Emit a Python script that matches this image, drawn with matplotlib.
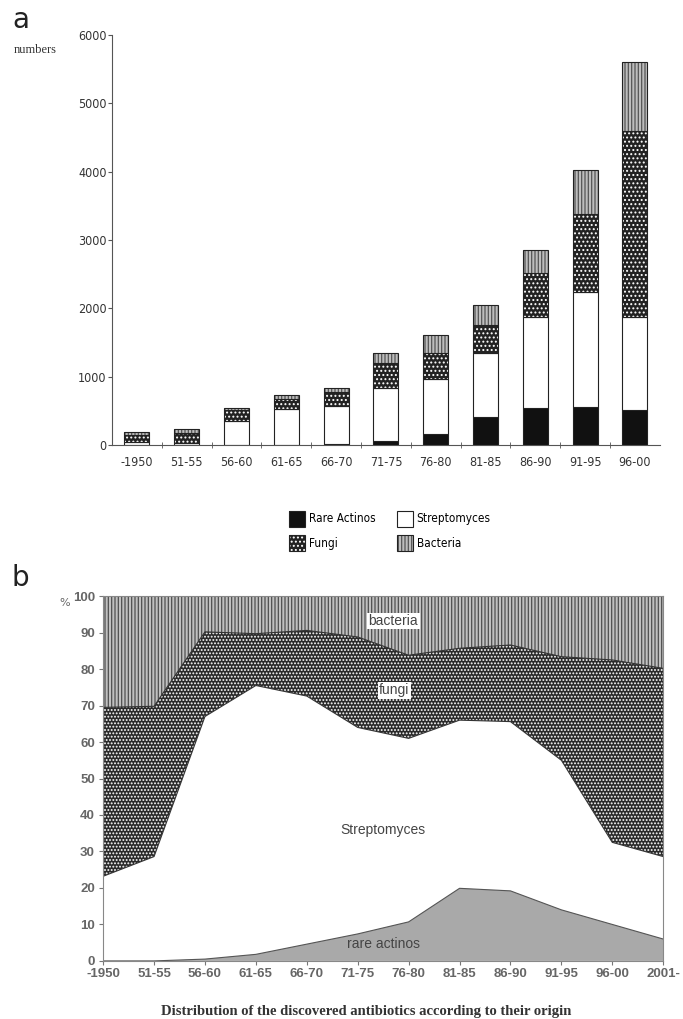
import matplotlib
matplotlib.use('Agg')
import matplotlib.pyplot as plt
from matplotlib.patches import Patch
import numpy as np

# panel a: numbers of discovered antibiotics per period
periods_a = ['-1950', '51-55', '56-60', '61-65', '66-70', '71-75',
             '76-80', '81-85', '86-90', '91-95', '96-00']
rare_a = [0, 0, 0, 0, 15, 60, 160, 415, 540, 560, 510]
strepto_a = [50, 35, 355, 535, 560, 780, 815, 940, 1340, 1675, 1370]
fungi_a = [100, 145, 155, 145, 200, 365, 380, 400, 635, 1140, 2705]
bacteria_a = [45, 55, 35, 50, 55, 145, 255, 295, 340, 650, 1015]

# panel b: cumulative percentages (top edge of each layer)
periods_b = ['-1950', '51-55', '56-60', '61-65', '66-70', '71-75',
             '76-80', '81-85', '86-90', '91-95', '96-00', '2001-']
rare_top = [0, 0, 0.5, 1.8, 4.6, 7.4, 10.7, 19.9, 19.2, 14, 10, 6]
strepto_top = [23.2, 28.6, 67, 75.5, 72.6, 64, 61, 66, 65.6, 55, 32.5, 28.6]
fungi_top = [69.5, 69.8, 90.2, 89.7, 90.6, 88.8, 83.8, 85.7, 86.6, 83.4, 82.5, 80.2]

plt.rcParams['hatch.linewidth'] = 0.9
cond = dict(family='DejaVu Sans', stretch='condensed')

fig = plt.figure(figsize=(6.83, 10.19), dpi=100)

# ---------- panel a ----------
ax1 = fig.add_axes([0.164, 0.563, 0.802, 0.403])
x = np.arange(len(periods_a))
w = 0.5
layers = [
    (rare_a, '#111111', '#111111', None),
    (strepto_a, 'white', 'white', None),
    (fungi_a, '#222222', 'white', '....'),
    (bacteria_a, '#bdbdbd', '#555555', '|||||'),
]
bottom = np.zeros(len(x))
handles = []
for vals, face, hcol, hatch in layers:
    vals = np.array(vals, dtype=float)
    ax1.bar(x, vals, w, bottom=bottom, color=face, edgecolor=hcol,
            hatch=hatch, linewidth=0)
    ax1.bar(x, vals, w, bottom=bottom, fill=False, edgecolor='#222222',
            linewidth=0.8)
    bottom += vals
    handles.append((Patch(facecolor=face, edgecolor=hcol, hatch=hatch, linewidth=0),
                    Patch(fill=False, edgecolor='#222222', linewidth=0.8)))

ax1.set_xlim(-0.5, 10.5)
ax1.set_ylim(0, 6000)
ax1.set_yticks(range(0, 6001, 1000))
ax1.set_xticks(x)
ax1.set_xticklabels(periods_a, fontsize=9, color='#333333', **cond)
ax1.set_xticks(x[:-1] + 0.5, minor=True)
ax1.tick_params(axis='x', which='major', length=0, pad=8)
ax1.tick_params(axis='x', which='minor', length=4, direction='inout', color='#555555')
ax1.tick_params(axis='y', length=3, color='#555555', labelsize=9, labelcolor='#333333',
                pad=1)
for lab in ax1.get_yticklabels():
    lab.set_family('DejaVu Sans')
    lab.set_stretch('condensed')
for s in ['top', 'right']:
    ax1.spines[s].set_visible(False)
for s in ['left', 'bottom']:
    ax1.spines[s].set_color('#555555')
    ax1.spines[s].set_linewidth(0.8)

fig.text(12 / 683, 1 - 20 / 1019, 'a', fontsize=20, va='center', color='#222222')
fig.text(14 / 683, 1 - 50 / 1019, 'numbers', fontsize=9, va='center',
         family='Liberation Serif', color='#333333')

labels = ['Rare Actinos', 'Streptomyces', 'Fungi', 'Bacteria']
order = [0, 2, 1, 3]
fig.legend([handles[i] for i in order], [labels[i] for i in [0, 2, 1, 3]],
           ncol=2, loc='upper left', bbox_to_anchor=(278 / 683, 1 - 500 / 1019),
           frameon=False, prop=dict(size=8.5, **cond),
           handlelength=1.4, handleheight=1.7, handletextpad=0.3,
           columnspacing=1.8, labelspacing=0.75)

# ---------- panel b ----------
ax2 = fig.add_axes([0.151, 0.057, 0.820, 0.358])
xb = np.arange(len(periods_b))
ax2.fill_between(xb, fungi_top, 100, facecolor='#c0c0c0', edgecolor='#505050',
                 hatch='|||||', linewidth=0)
ax2.fill_between(xb, strepto_top, fungi_top, facecolor='#2a2a2a', edgecolor='white',
                 hatch='.....', linewidth=0)
ax2.fill_between(xb, rare_top, strepto_top, facecolor='white', linewidth=0)
ax2.fill_between(xb, 0, rare_top, facecolor='#a9a9a9', linewidth=0)
ax2.plot(xb, fungi_top, color='#333333', lw=0.8)
ax2.plot(xb, strepto_top, color='#333333', lw=0.8)
ax2.plot(xb, rare_top, color='#555555', lw=0.8)

ax2.set_xlim(0, 11)
ax2.set_ylim(0, 100)
ax2.set_xticks(xb)
ax2.set_xticklabels(periods_b)
ax2.set_yticks(range(0, 101, 10))
ax2.tick_params(axis='x', length=3, color='#777777', labelsize=9.5,
                labelcolor='#666666', pad=2)
ax2.tick_params(axis='y', length=3, color='#777777', labelsize=9.5,
                labelcolor='#666666', pad=3)
for lab in ax2.get_xticklabels() + ax2.get_yticklabels():
    lab.set_family('Liberation Sans')
    lab.set_fontweight('bold')
for s in ax2.spines.values():
    s.set_color('#888888')
    s.set_linewidth(0.8)

box = dict(facecolor='white', edgecolor='none', pad=1)
ax2.text(5.7, 93.2, 'bacteria', ha='center', va='center', fontsize=10,
         family='Liberation Sans', color='#444444', bbox=box)
ax2.text(5.72, 74.2, 'fungi', ha='center', va='center', fontsize=10,
         family='Liberation Sans', color='#444444', bbox=box)
ax2.text(5.5, 35.9, 'Streptomyces', ha='center', va='center', fontsize=10,
         family='Liberation Sans', color='#444444')
ax2.text(5.5, 4.7, 'rare actinos', ha='center', va='center', fontsize=10,
         family='Liberation Sans', color='#444444')

fig.text(12 / 683, 1 - 578 / 1019, 'b', fontsize=20, va='center', color='#222222')
fig.text(59 / 683, 1 - 603 / 1019, '%', fontsize=8, va='center', color='#666666')
fig.text(366 / 683, 1 - 1011 / 1019,
         'Distribution of the discovered antibiotics according to their origin',
         ha='center', va='center', fontsize=10.5, fontweight='bold',
         family='Liberation Serif', color='#333333')

fig.savefig('out.png', dpi=100)
